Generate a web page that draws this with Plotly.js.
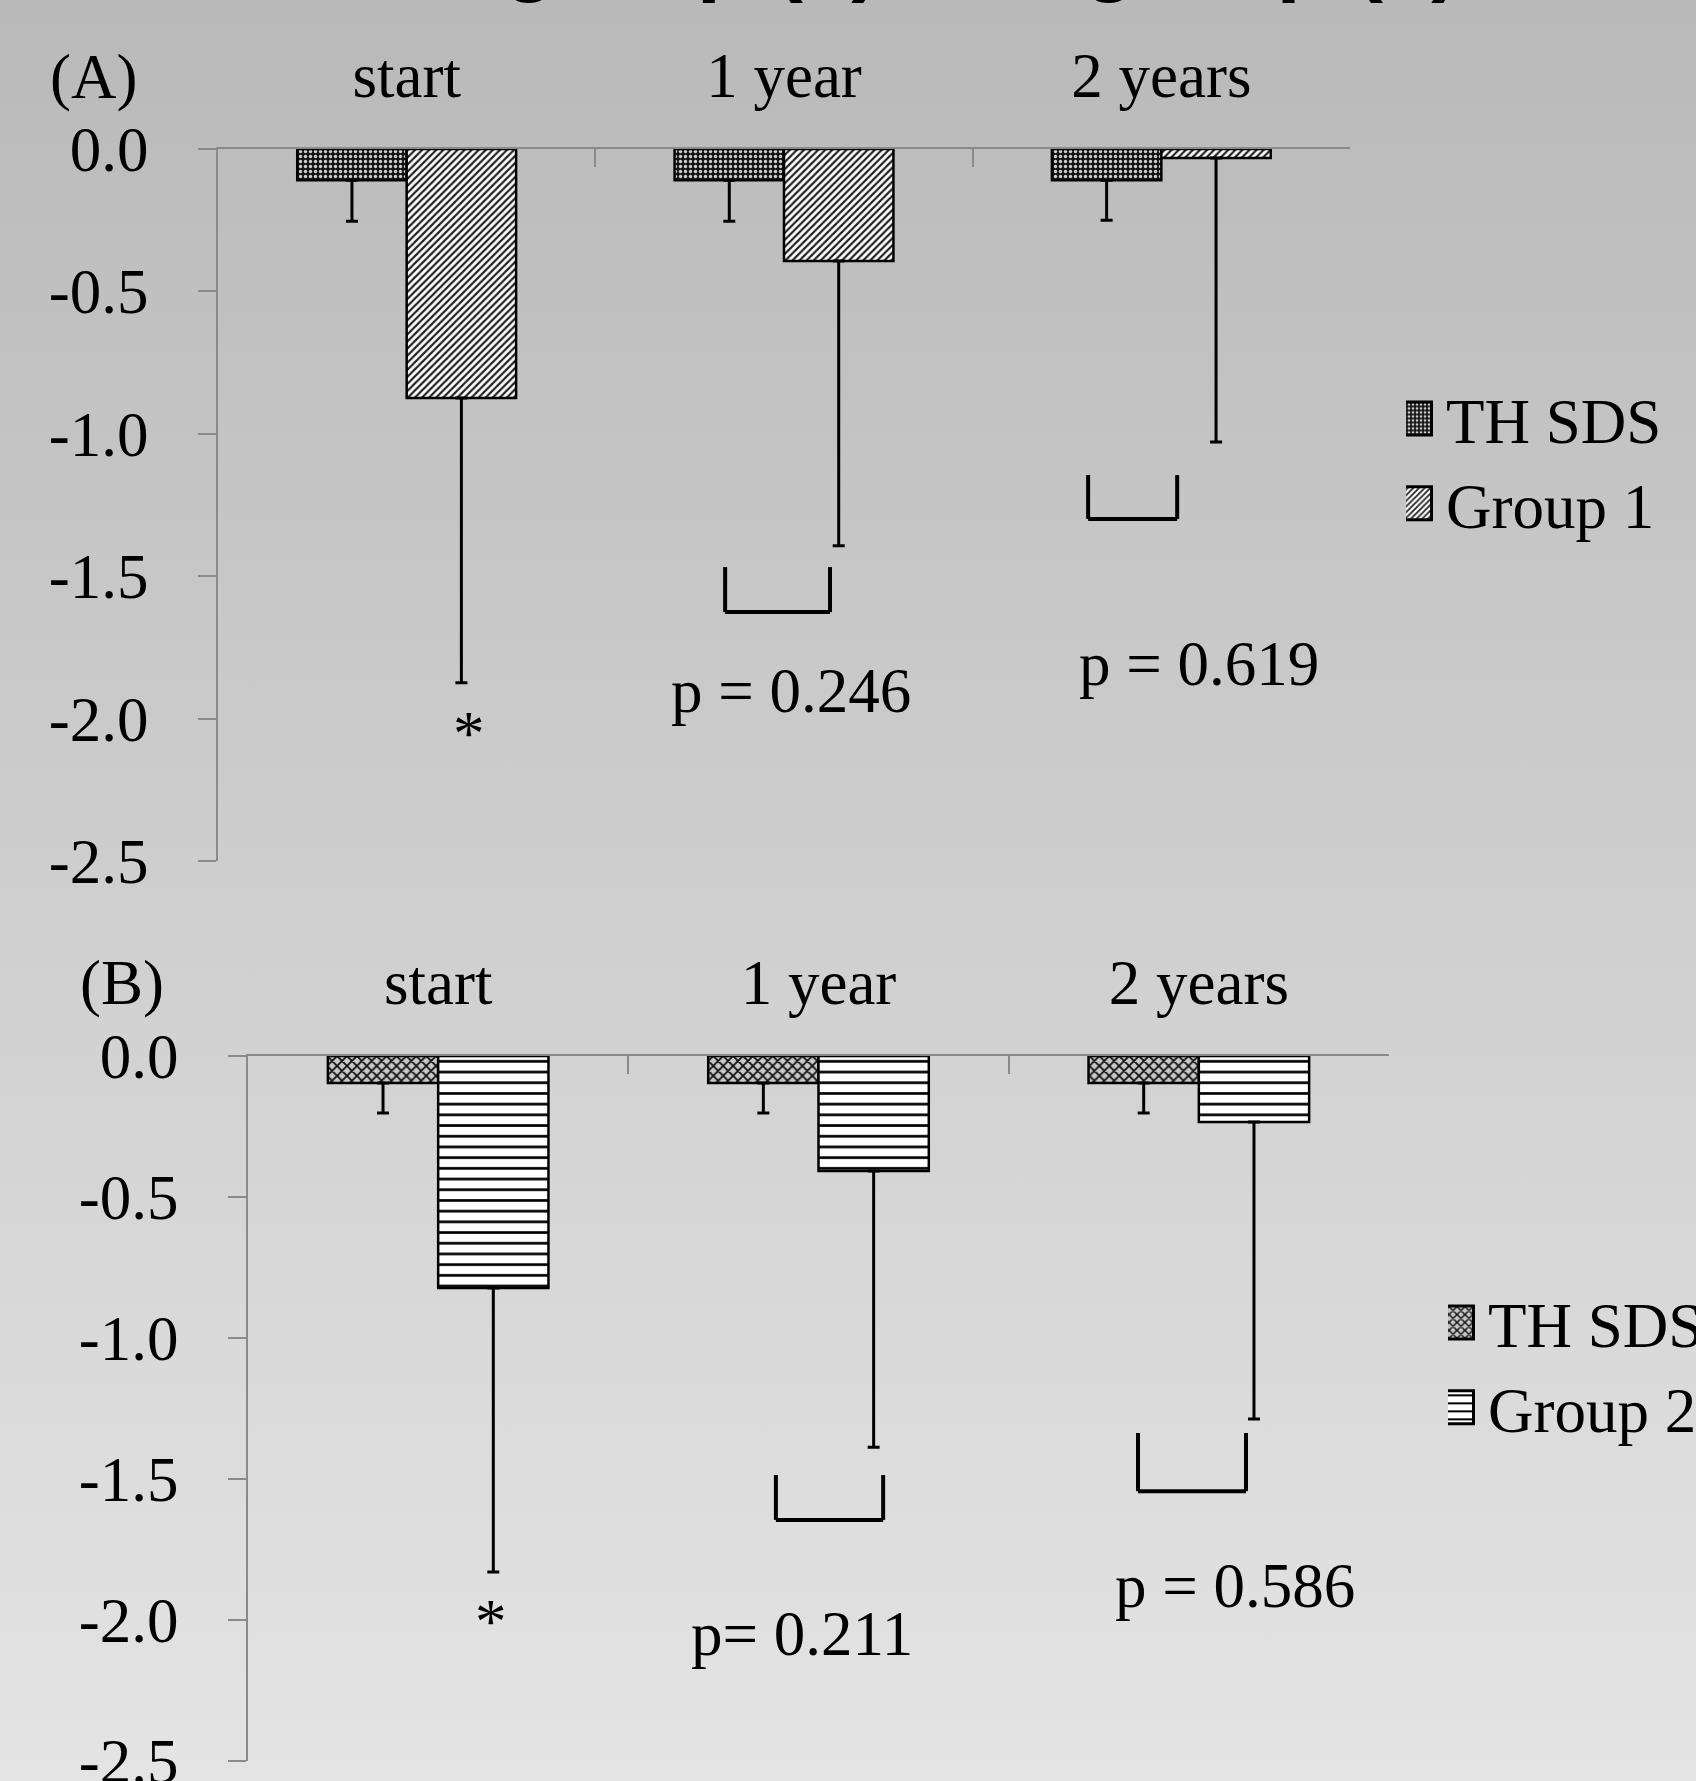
<!DOCTYPE html>
<html><head><meta charset="utf-8">
<script src="https://cdn.plot.ly/plotly-3.0.1.min.js"></script>
<style>
html,body{margin:0;padding:0;overflow:hidden;}
body{width:1696px;height:1781px;background:linear-gradient(to bottom,#b9b9b9 0%,#e4e4e4 100%);}
#chart{width:1696px;height:1781px;}
</style>
</head><body><div id="chart"></div>
<script>
// ---- data ----
const categories = ['start', '1 year', '2 years'];
const thA = [-0.11, -0.11, -0.11];
const thAErr = [0.144, 0.144, 0.14];
const group1 = [-0.874, -0.393, -0.032];
const group1Err = [1.0, 1.0, 0.997];
const thB = [-0.096, -0.096, -0.096];
const thBErr = [0.106, 0.106, 0.106];
const group2 = [-0.823, -0.408, -0.234];
const group2Err = [1.007, 0.979, 1.053];
const yTickVals = [0, -0.5, -1, -1.5, -2, -2.5];
const yTickText = ['0.0', '-0.5', '-1.0', '-1.5', '-2.0', '-2.5'];
// significance labels (x = category index, y = value)
const sigAX = [0.165, 1.019, 2.100];
const sigAY = [-2.054, -1.903, -1.808];
const sigAText = ['*', 'p = 0.246', 'p = 0.619'];
const sigBX = [0.139, 0.957, 2.095];
const sigBY = [-2.007, -2.048, -1.879];
const sigBText = ['*', 'p= 0.211', 'p = 0.586'];
// brackets
const brAX0 = [0.844, 1.806], brAX1 = [1.122, 2.042], brATop = [-1.468, -1.145], brABot = [-1.626, -1.299];
const brBX0 = [0.888, 1.840], brBX1 = [1.170, 2.124], brBTop = [-1.486, -1.337], brBBot = [-1.645, -1.543];
const panelLabels = ['(A)', '(B)'];
const titleText = 'SDS of group (1) and group (2)';

// ---- styles ----
const SERIF = 'Liberation Serif';
const FS = 63;
const AXC = '#8a8a8a';

function errMinus(arr) {
  return {type: 'data', symmetric: false, array: arr.map(() => 0), arrayminus: arr,
          color: '#000', thickness: 3, width: 6};
}

const traces = [
  {type: 'bar', x: categories, y: thA, name: 'TH SDS', xaxis: 'x', yaxis: 'y', legend: 'legend',
   error_y: errMinus(thAErr),
   marker: {color: '#151515', line: {color: '#000', width: 2.5},
            pattern: {shape: '.', fgcolor: '#cfcfcf', bgcolor: '#151515', size: 5, solidity: 0.35}}},
  {type: 'bar', x: categories, y: group1, name: 'Group 1', xaxis: 'x', yaxis: 'y', legend: 'legend',
   error_y: errMinus(group1Err),
   marker: {color: '#fff', line: {color: '#000', width: 2.5},
            pattern: {shape: '/', fgcolor: '#222', bgcolor: '#fff', size: 5, solidity: 0.45}}},
  {type: 'bar', x: categories, y: thB, name: 'TH SDS', xaxis: 'x2', yaxis: 'y2', legend: 'legend2',
   error_y: errMinus(thBErr),
   marker: {color: '#bbb', line: {color: '#000', width: 2.5},
            pattern: {shape: 'x', fgcolor: '#111', bgcolor: '#c8c8c8', size: 7, solidity: 0.45}}},
  {type: 'bar', x: categories, y: group2, name: 'Group 2', xaxis: 'x2', yaxis: 'y2', legend: 'legend2',
   error_y: errMinus(group2Err),
   marker: {color: '#fff', line: {color: '#000', width: 2.5},
            pattern: {shape: '-', fgcolor: '#000', bgcolor: '#fff', size: 10.7, solidity: 0.25}}}
];

function xAxis(domain, anchor) {
  return {domain: domain, anchor: anchor, type: 'category', range: [-0.5, 2.5], side: 'top',
          showline: true, linecolor: AXC, linewidth: 2, ticks: 'inside', ticklen: 18, tickwidth: 2,
          tickcolor: AXC, tickson: 'boundaries', showgrid: false, zeroline: false,
          ticklabelstandoff: 25, tickfont: {family: SERIF, size: FS, color: '#000'}, fixedrange: true};
}
function yAxis(domain, anchor) {
  return {domain: domain, anchor: anchor, range: [-2.5, 0], tickvals: yTickVals, ticktext: yTickText,
          showline: true, linecolor: AXC, linewidth: 2, ticks: 'outside', ticklen: 18, tickwidth: 2,
          tickcolor: AXC, showgrid: false, zeroline: false, ticklabelstandoff: 37,
          ticklabeloverflow: 'allow',
          tickfont: {family: SERIF, size: FS, color: '#000'}, fixedrange: true};
}

const W = 1696, H = 1781;
const annotations = [];
sigAX.forEach((x, i) => annotations.push({xref: 'x', yref: 'y', x: x, y: sigAY[i], text: sigAText[i], showarrow: false,
  xanchor: 'center', yanchor: 'middle', font: {family: SERIF, size: FS, color: '#000'}}));
sigBX.forEach((x, i) => annotations.push({xref: 'x2', yref: 'y2', x: x, y: sigBY[i], text: sigBText[i], showarrow: false,
  xanchor: 'center', yanchor: 'middle', font: {family: SERIF, size: FS, color: '#000'}}));
annotations.push({xref: 'paper', yref: 'paper', x: 93 / W, y: 1 - 77 / H, xanchor: 'center', yanchor: 'middle',
  text: panelLabels[0], showarrow: false, font: {family: SERIF, size: FS, color: '#000'}});
annotations.push({xref: 'paper', yref: 'paper', x: 122 / W, y: 1 - 983 / H, xanchor: 'center', yanchor: 'middle',
  text: panelLabels[1], showarrow: false, font: {family: SERIF, size: FS, color: '#000'}});
annotations.push({xref: 'paper', yref: 'paper', x: 827 / W, y: 1 - 5 / H, xanchor: 'center', yanchor: 'bottom',
  text: titleText, showarrow: false, font: {family: 'Liberation Sans', size: 87, weight: 'bold', color: '#000'}});

const shapes = [];
function bracket(xr, yr, x0, x1, yt, yb) {
  const ln = {color: '#000', width: 4};
  shapes.push({type: 'line', xref: xr, yref: yr, x0: x0, x1: x0, y0: yt, y1: yb, line: ln});
  shapes.push({type: 'line', xref: xr, yref: yr, x0: x1, x1: x1, y0: yt, y1: yb, line: ln});
  shapes.push({type: 'line', xref: xr, yref: yr, x0: x0, x1: x1, y0: yb, y1: yb, line: ln});
}
brAX0.forEach((x, i) => bracket('x', 'y', x, brAX1[i], brATop[i], brABot[i]));
brBX0.forEach((x, i) => bracket('x2', 'y2', x, brBX1[i], brBTop[i], brBBot[i]));

const layout = {
  width: W, height: H,
  margin: {l: 0, r: 0, t: 0, b: 0, autoexpand: false},
  paper_bgcolor: 'rgba(0,0,0,0)', plot_bgcolor: 'rgba(0,0,0,0)',
  barmode: 'group', bargap: 0.42, bargroupgap: 0,
  font: {family: SERIF, size: FS, color: '#000'},
  xaxis: xAxis([218 / W, 1350 / W], 'y'),
  yaxis: yAxis([1 - 861 / H, 1 - 149 / H], 'x'),
  xaxis2: xAxis([248 / W, 1389 / W], 'y2'),
  yaxis2: yAxis([1 - 1761 / H, 1 - 1056 / H], 'x2'),
  legend: {x: 1406 / W, y: 1 - 371 / H, xanchor: 'left', yanchor: 'top', bgcolor: 'rgba(0,0,0,0)',
           font: {family: SERIF, size: FS, color: '#000'}, traceorder: 'normal'},
  legend2: {x: 1448 / W, y: 1 - 1275 / H, xanchor: 'left', yanchor: 'top', bgcolor: 'rgba(0,0,0,0)',
            font: {family: SERIF, size: FS, color: '#000'}, traceorder: 'normal'},
  annotations: annotations,
  shapes: shapes,
  showlegend: true
};

Plotly.newPlot('chart', traces, layout, {staticPlot: true, displayModeBar: false}).then(function (gd) {
  // enlarge legend swatches to match the reference
  gd.querySelectorAll('.legendpoints path').forEach(function (p) {
    p.setAttribute('d', 'M16.5,16.5H-16.5V-16.5H16.5Z');
    var t = p.getAttribute('transform') || '';
    p.setAttribute('transform', t + ' translate(-11,0)');
    p.style.strokeWidth = '3px';
  });
});
</script>
</body></html>
